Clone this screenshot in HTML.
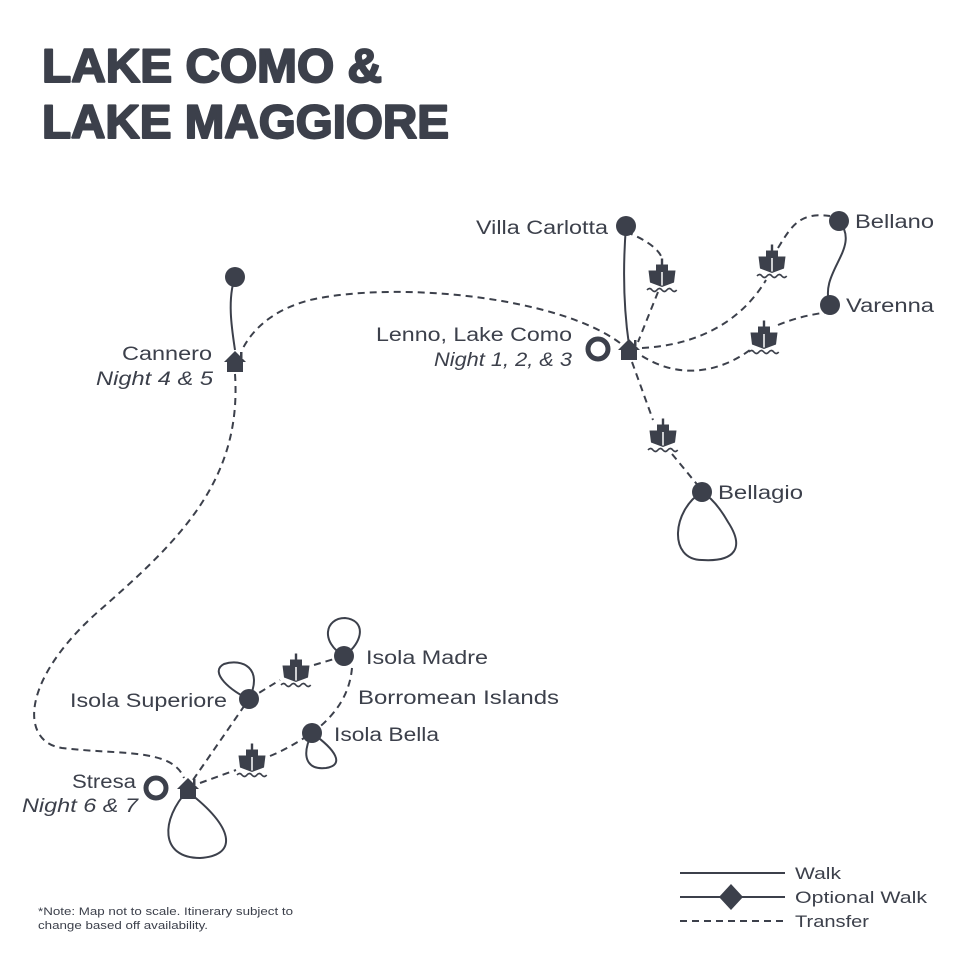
<!DOCTYPE html>
<html><head><meta charset="utf-8"><style>
html,body{margin:0;padding:0;background:#fff;}
svg{display:block;}
text{font-family:"Liberation Sans",sans-serif;fill:#3c404b;}
</style></head><body>
<svg width="960" height="960" viewBox="0 0 960 960">
<defs>
<g id="boat" transform="scale(1.5)">
<rect x="-0.8" y="-13" width="1.6" height="4" fill="#3c404b"/>
<rect x="-4" y="-9" width="8" height="4" fill="#3c404b"/>
<path d="M-9,-5 L9,-5 L8,3 L0,6 L-8,3 Z" fill="#3c404b"/>
<line x1="0" y1="-4" x2="0" y2="5" stroke="#fff" stroke-width="1"/>
<path d="M-10,8 q1.7,-2 3.3,0 q1.7,2 3.3,0 q1.7,-2 3.3,0 q1.7,2 3.3,0 q1.7,-2 3.3,0 q1.7,2 3.3,0" fill="none" stroke="#3c404b" stroke-width="1.1"/>
</g>
<g id="house">
<path d="M-11,1 L0,-10 L11,1 L8,1 L8,11 L-8,11 L-8,1 Z" fill="#3c404b"/>
<rect x="5" y="-9" width="2.5" height="6" fill="#3c404b"/>
</g>
</defs>

<g stroke="#3c404b" stroke-width="2" stroke-linejoin="round">
<text x="42" y="82" font-size="47" font-weight="bold" textLength="340" lengthAdjust="spacingAndGlyphs">LAKE COMO &amp;</text>
<text x="42" y="138" font-size="47" font-weight="bold" textLength="407" lengthAdjust="spacingAndGlyphs">LAKE MAGGIORE</text>
</g>

<g fill="none" stroke="#3c404b" stroke-width="2">
<path d="M626,226 Q621,290 629,345"/>
<path d="M839,221 C862,248 818,272 830,305"/>
<path d="M235,277 C227,300 232,330 235,350"/>
<path d="M702,492 C672,510 668,560 702,560 C735,562 745,548 728,522 C720,508 712,498 702,492"/>
<path d="M188,790 C160,820 160,858 200,858 C236,856 236,830 192,795"/>
<path d="M249,699 C232,692 208,672 224,664 C242,658 264,668 249,699"/>
<path d="M344,656 C320,642 325,618 345,618 C366,620 364,642 344,656"/>
<path d="M312,733 C300,758 308,770 326,768 C345,765 336,750 312,733"/>
</g>
<g fill="none" stroke="#3c404b" stroke-width="2" stroke-dasharray="7,5">
<path d="M626,232 C648,240 662,252 662,260"/>
<path d="M658,292 L638,342"/>
<path d="M642,348 C700,345 742,320 766,280"/>
<path d="M778,248 C792,225 800,212 830,216"/>
<path d="M642,356 C680,380 720,372 750,350"/>
<path d="M778,325 C795,318 812,314 830,312"/>
<path d="M632,362 L653,420"/>
<path d="M672,454 L700,488"/>
<path d="M620,343 C560,298 400,280 310,300 C272,310 252,330 242,350"/>
<path d="M235,374 C242,480 180,540 100,610 C20,680 20,742 62,748 C120,755 172,748 184,778"/>
<path d="M193,780 L249,699"/>
<path d="M249,699 L280,680"/>
<path d="M314,665 L344,656"/>
<path d="M352,668 C350,690 340,712 312,733"/>
<path d="M200,783 L236,770"/>
<path d="M270,756 C285,750 298,742 312,733"/>
</g>

<g fill="#3c404b">
<circle cx="626" cy="226" r="10"/>
<circle cx="839" cy="221" r="10"/>
<circle cx="830" cy="305" r="10"/>
<circle cx="702" cy="492" r="10"/>
<circle cx="235" cy="277" r="10"/>
<circle cx="249" cy="699" r="10"/>
<circle cx="344" cy="656" r="10"/>
<circle cx="312" cy="733" r="10"/>
</g>
<circle cx="598" cy="349" r="10" fill="none" stroke="#3c404b" stroke-width="5"/>
<circle cx="156" cy="788" r="10" fill="none" stroke="#3c404b" stroke-width="5"/>
<use href="#house" x="629" y="349"/>
<use href="#house" x="235" y="361"/>
<use href="#house" x="188" y="788"/>

<use href="#boat" x="662" y="278"/>
<use href="#boat" x="772" y="264"/>
<use href="#boat" x="764" y="340"/>
<use href="#boat" x="663" y="438"/>
<use href="#boat" x="296" y="673"/>
<use href="#boat" x="252" y="763"/>

<g font-size="19" lengthAdjust="spacingAndGlyphs">
<text x="476" y="234" textLength="132" lengthAdjust="spacingAndGlyphs">Villa Carlotta</text>
<text x="855" y="228" textLength="79" lengthAdjust="spacingAndGlyphs">Bellano</text>
<text x="846" y="312" textLength="88" lengthAdjust="spacingAndGlyphs">Varenna</text>
<text x="376" y="341" textLength="196" lengthAdjust="spacingAndGlyphs">Lenno, Lake Como</text>
<text x="434" y="366" font-style="italic" textLength="138" lengthAdjust="spacingAndGlyphs">Night 1, 2, &amp; 3</text>
<text x="718" y="499" textLength="85" lengthAdjust="spacingAndGlyphs">Bellagio</text>
<text x="122" y="360" textLength="90" lengthAdjust="spacingAndGlyphs">Cannero</text>
<text x="96" y="385" font-style="italic" textLength="117" lengthAdjust="spacingAndGlyphs">Night 4 &amp; 5</text>
<text x="366" y="664" textLength="122" lengthAdjust="spacingAndGlyphs">Isola Madre</text>
<text x="358" y="704" textLength="201" lengthAdjust="spacingAndGlyphs">Borromean Islands</text>
<text x="70" y="707" textLength="157" lengthAdjust="spacingAndGlyphs">Isola Superiore</text>
<text x="334" y="741" textLength="105" lengthAdjust="spacingAndGlyphs">Isola Bella</text>
<text x="72" y="788" textLength="64" lengthAdjust="spacingAndGlyphs">Stresa</text>
<text x="22" y="812" font-style="italic" textLength="116" lengthAdjust="spacingAndGlyphs">Night 6 &amp; 7</text>
</g>

<g stroke="#3c404b" stroke-width="2" fill="none">
<line x1="680" y1="873" x2="785" y2="873"/>
<line x1="680" y1="897" x2="785" y2="897"/>
<line x1="680" y1="921" x2="785" y2="921" stroke-dasharray="7,5"/>
</g>
<path d="M731,884 L743,897 L731,910 L719,897 Z" fill="#3c404b"/>
<g font-size="17">
<text x="795" y="879" textLength="46" lengthAdjust="spacingAndGlyphs">Walk</text>
<text x="795" y="903" textLength="132" lengthAdjust="spacingAndGlyphs">Optional Walk</text>
<text x="795" y="927" textLength="74" lengthAdjust="spacingAndGlyphs">Transfer</text>
</g>
<text x="38" y="915" font-size="11" textLength="255" lengthAdjust="spacingAndGlyphs">*Note: Map not to scale. Itinerary subject to</text>
<text x="38" y="929" font-size="11" textLength="170" lengthAdjust="spacingAndGlyphs">change based off availability.</text>
</svg>
</body></html>
